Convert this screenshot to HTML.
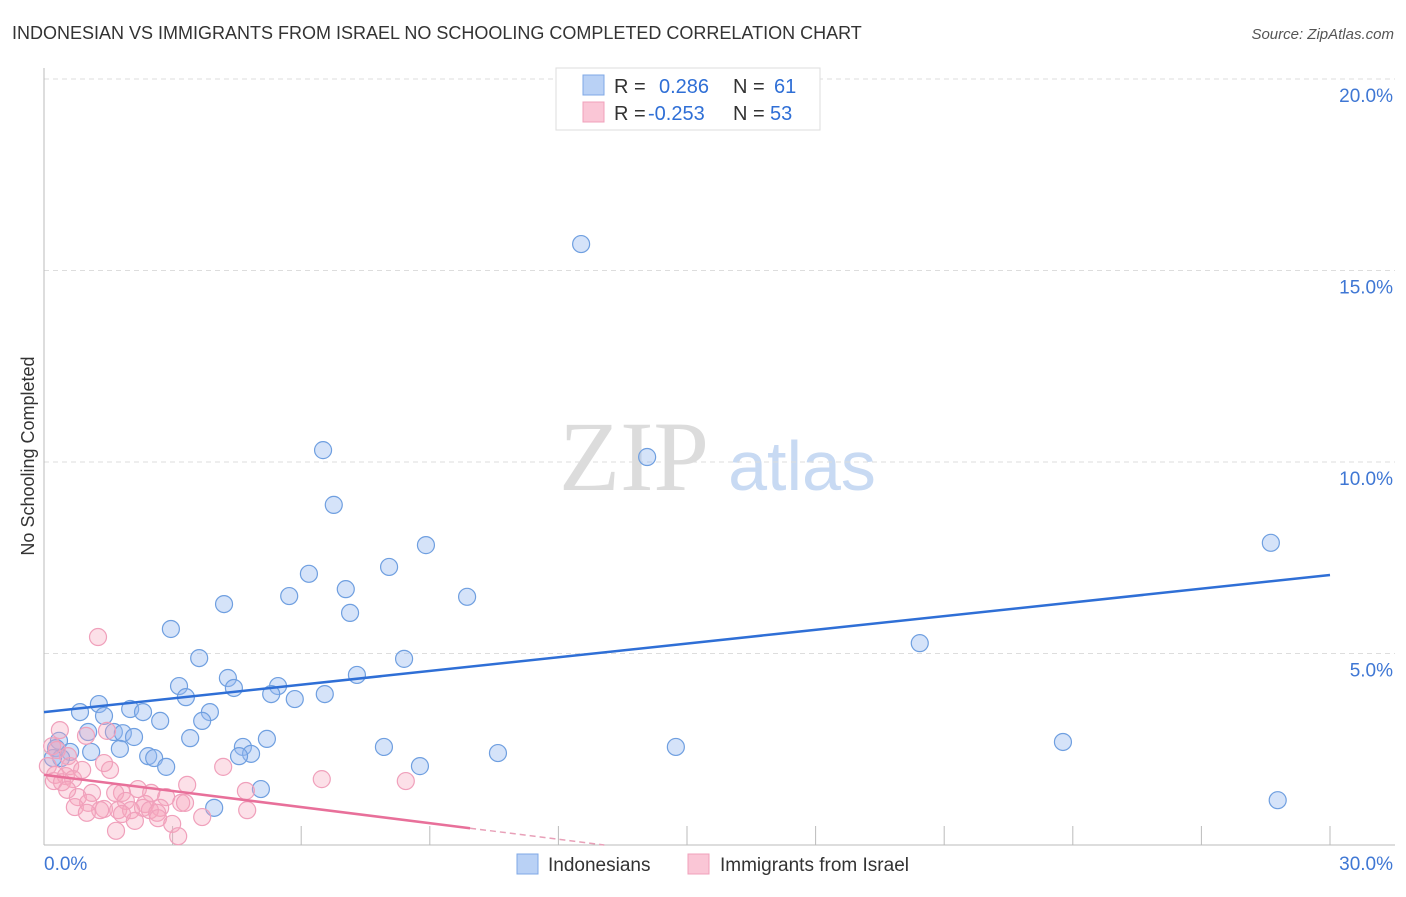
<!DOCTYPE html>
<html><head><meta charset="utf-8"><style>
body{margin:0;background:#fff;font-family:"Liberation Sans",sans-serif}
svg text{font-family:"Liberation Sans",sans-serif}
</style></head><body>
<svg id="chart" width="1406" height="892" xmlns="http://www.w3.org/2000/svg">
<text x="12" y="39" font-size="18" fill="#333">INDONESIAN VS IMMIGRANTS FROM ISRAEL NO SCHOOLING COMPLETED CORRELATION CHART</text>
<text x="1394" y="39" font-size="15" fill="#555" text-anchor="end" font-style="italic">Source: ZipAtlas.com</text>
<text transform="translate(34,456) rotate(-90)" font-size="18" fill="#333" text-anchor="middle">No Schooling Completed</text>
<g>
<text x="634" y="490" font-size="100" fill="#dcdcdc" text-anchor="middle" style="font-family:'Liberation Serif',serif">ZIP</text>
<text x="802" y="490" font-size="70" fill="#c8daf3" text-anchor="middle">atlas</text>
</g>
<g id="grid"></g><g id="axes"></g><g id="pts"></g><g id="lines"></g>
<g>
<rect x="556" y="68" width="264" height="62" fill="#fff" stroke="#ddd"/>
<rect x="583" y="75" width="21" height="20" fill="#b9d1f5" stroke="#7fa8e6"/>
<rect x="583" y="102" width="21" height="20" fill="#fac6d6" stroke="#f0a0bb"/>
<text x="614" y="93" font-size="20" fill="#333">R =</text>
<text x="659" y="93" font-size="20" fill="#2f6fd6">0.286</text>
<text x="733" y="93" font-size="20" fill="#333">N =</text>
<text x="774" y="93" font-size="20" fill="#2f6fd6">61</text>
<text x="614" y="120" font-size="20" fill="#333">R =</text>
<text x="648" y="120" font-size="20" fill="#2f6fd6">-0.253</text>
<text x="733" y="120" font-size="20" fill="#333">N =</text>
<text x="770" y="120" font-size="20" fill="#2f6fd6">53</text>
</g>
<g>
<rect x="517" y="854" width="21" height="20" fill="#b9d1f5" stroke="#7fa8e6"/>
<text x="548" y="871" font-size="19" fill="#333">Indonesians</text>
<rect x="688" y="854" width="21" height="20" fill="#fac6d6" stroke="#f0a0bb"/>
<text x="720" y="871" font-size="19" fill="#333">Immigrants from Israel</text>
</g>
</svg>
<script>
const blueX=[12.53,6.51,14.07,6.76,28.62,8.91,6.18,8.05,7.04,5.72,9.87,4.20,7.14,2.96,20.43,3.62,8.40,7.30,4.29,3.15,4.43,5.46,3.31,5.30,5.85,6.55,1.28,2.01,3.87,0.84,2.31,1.40,2.71,3.69,1.63,1.03,1.84,2.10,3.41,5.20,0.35,4.64,7.93,0.28,14.74,23.77,1.77,1.10,0.61,2.43,2.57,4.83,4.55,10.59,2.85,8.77,0.40,0.21,5.06,3.97,28.78];
const blueY=[15.69,10.31,10.13,8.88,7.89,7.83,7.08,7.26,6.68,6.50,6.48,6.29,6.06,5.64,5.27,4.88,4.86,4.44,4.36,4.15,4.10,4.15,3.86,3.94,3.81,3.94,3.68,3.55,3.47,3.47,3.47,3.37,3.24,3.24,2.95,2.95,2.92,2.82,2.79,2.77,2.72,2.56,2.56,2.53,2.56,2.69,2.51,2.43,2.43,2.32,2.27,2.38,2.32,2.40,2.04,2.06,2.27,2.27,1.46,0.97,1.17];
const pinkX=[1.26,0.37,0.98,1.47,0.19,0.30,0.56,0.09,0.61,0.89,1.54,1.40,4.18,0.26,0.51,0.68,0.23,0.42,6.48,8.44,3.34,2.19,1.82,1.12,1.66,2.50,4.71,0.79,2.85,1.03,1.91,3.20,2.36,3.29,1.40,1.73,2.31,2.71,0.72,2.47,1.31,2.03,2.64,4.74,1.00,1.82,3.69,2.66,2.12,2.99,1.68,3.13,0.54];
const pinkY=[5.43,3.00,2.85,2.98,2.58,2.48,2.32,2.06,2.06,1.96,1.96,2.14,2.04,1.83,1.80,1.72,1.67,1.64,1.72,1.67,1.57,1.46,1.36,1.36,1.36,1.36,1.41,1.25,1.25,1.10,1.15,1.10,1.07,1.10,0.94,0.91,0.97,0.97,0.99,0.91,0.91,0.91,0.84,0.91,0.84,0.81,0.73,0.70,0.63,0.55,0.37,0.23,1.44];
const blueTrend=[3.47,7.05];
const pinkTrend=[1.83,-0.14];
const yTicks=[5,10,15,20];
const yTickLabels=["5.0%","10.0%","15.0%","20.0%"];
const NS="http://www.w3.org/2000/svg";
const sx=v=>44+v*(1286/30), sy=v=>845-v*38.3;
function mk(tag,attrs,parent){const e=document.createElementNS(NS,tag);for(const k in attrs)e.setAttribute(k,attrs[k]);document.getElementById(parent).appendChild(e);return e;}
yTicks.forEach((t,i)=>{
 const g=mk('line',{x1:44,x2:1395,y1:sy(t),y2:sy(t),stroke:'#ddd','stroke-dasharray':'5,4'},'grid');
 
 
 const l=mk('text',{x:1393,y:sy(t)+23,'font-size':19,fill:'#3f77d4','text-anchor':'end'},'grid');
 l.textContent=yTickLabels[i];
 
 
});
const ax=mk('line',{x1:44,x2:44,y1:68,y2:845,stroke:'#bbb'},'axes');


const bx=mk('line',{x1:44,x2:1395,y1:845,y2:845,stroke:'#bbb'},'axes');


for(let i=1;i<=10;i++){const t=mk('line',{x1:sx(i*3),x2:sx(i*3),y1:826,y2:845,stroke:'#bbb'},'axes');
 
 }
const x0=mk('text',{x:44,y:870,'font-size':19,fill:'#3f77d4'},'axes');x0.textContent='0.0%';


const x1=mk('text',{x:1393,y:870,'font-size':19,fill:'#3f77d4','text-anchor':'end'},'axes');x1.textContent='30.0%';


blueX.forEach((v,i)=>{const c=mk('circle',{cx:sx(v),cy:sy(blueY[i]),r:8.5,fill:'rgba(150,185,240,0.4)',stroke:'#6f9fe0','stroke-width':1.2},'pts');
 
 });
pinkX.forEach((v,i)=>{const c=mk('circle',{cx:sx(v),cy:sy(pinkY[i]),r:8.5,fill:'rgba(245,165,190,0.35)',stroke:'#f0a0bb','stroke-width':1.2},'pts');
 
 });
const bl=mk('line',{x1:sx(0),y1:sy(blueTrend[0]),x2:sx(30),y2:sy(blueTrend[1]),stroke:'#2f6fd6','stroke-width':2.5},'lines');


const pe=9.94, pz=-pinkTrend[0]/pinkTrend[1];
const pl=mk('line',{x1:sx(0),y1:sy(pinkTrend[0]),x2:sx(pe),y2:sy(pinkTrend[0]+pinkTrend[1]*pe),stroke:'#e8709a','stroke-width':2.5},'lines');


const pd=mk('line',{x1:sx(pe),y1:sy(pinkTrend[0]+pinkTrend[1]*pe),x2:sx(pz),y2:sy(0),stroke:'#e8a0b8','stroke-width':1.5,'stroke-dasharray':'6,4'},'lines');


</script>
</body></html>
